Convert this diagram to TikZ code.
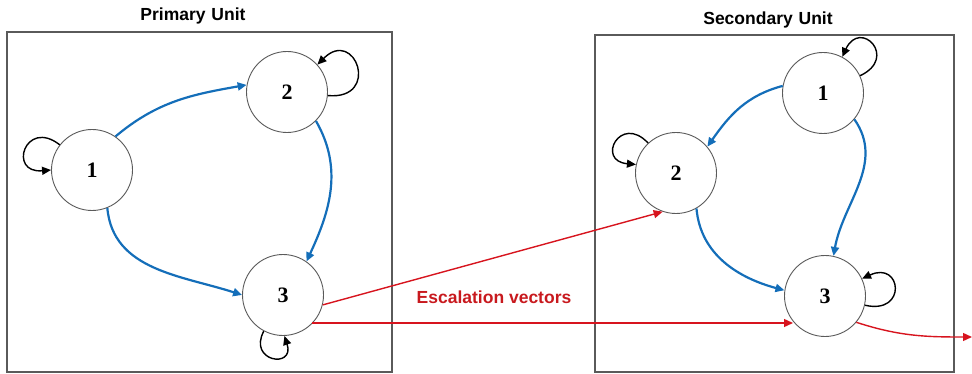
\documentclass[tikz,border=0pt]{standalone}
\usepackage{fontspec}
\setmainfont{Liberation Serif}
\setsansfont{Liberation Sans}
\usetikzlibrary{arrows.meta,calc}
\definecolor{flowblue}{RGB}{20,110,185}
\definecolor{escred}{RGB}{215,20,30}
\definecolor{labred}{RGB}{200,25,30}
\definecolor{boxgray}{RGB}{90,90,90}
\tikzset{
  state/.style={circle,draw=boxgray,line width=0.9pt,fill=white,minimum size=81pt,inner sep=0pt,
    font=\fontsize{22}{24}\selectfont\bfseries},
  unitbox/.style={draw=boxgray,line width=1.3pt},
  unittitle/.style={font=\sffamily\bfseries\fontsize{17.5}{19}\selectfont},
  flow/.style={draw=flowblue,line width=2.2pt,-{Triangle[length=9pt,width=8pt]}},
  selfloop/.style={draw=black,line width=1.4pt,-{Triangle[length=9pt,width=8pt]},looseness=4.2},
  esc/.style={draw=escred,line width=1.4pt,-{Triangle[length=9pt,width=8pt]}},
}
\begin{document}
\begin{tikzpicture}[x=1pt,y=1pt]
\useasboundingbox (0,0) rectangle (972,-374);
% boxes
\draw[unitbox] (7,-32) rectangle (392,-372);
\draw[unitbox] (595,-35) rectangle (954,-372);
\node[unittitle] (t1) at (193,-16) {Primary\,\,Unit};
\node[unittitle] (t2) at (768,-20) {Secondary\,\,Unit};
% primary states
\node[state] (P1) at (92,-170) {1};
\node[state] (P2) at (287,-92) {2};
\node[state] (P3) at (283,-295) {3};
% secondary states
\node[state] (S1) at (823,-93) {1};
\node[state] (S2) at (676,-173) {2};
\node[state] (S3) at (825,-296) {3};
% blue flows
\draw[flow] (P1.55) to[out=40,in=190] (P2.170);
\draw[flow] (P2.-45) to[out=-60,in=65] (P3.55);
\draw[flow] (P1.-68) to[out=-85,in=162] (P3.180);
\draw[flow] (S1.170) to[out=195,in=55] (S2.40);
\draw[flow] (S1.-40) to[out=-55,in=80] (S3.78);
\draw[flow] (S2.-60) to[out=-85,in=165] (S3.172);
% self loops
\draw[selfloop] (P1.142) to[out=142,in=185] (P1.180);
\draw[selfloop] (P2.-5) to[out=-5,in=45] (P2.42);
\draw[selfloop] (P3.-118) to[out=-118,in=-72] (P3.-88);
\draw[selfloop] (S1.25) to[out=25,in=65] (S1.62);
\draw[selfloop] (S2.133) to[out=133,in=175] (S2.168);
\draw[selfloop] (S3.-13) to[out=-13,in=25] (S3.25);
% escalation vectors
\coordinate (h1) at (312,-323);
\coordinate (h2) at (793,-323);
\coordinate (exit) at (972,-337);
\draw[esc] (P3.-14) -- (S2.-109);
\draw[esc] (h1) -- (h2);
\draw[esc] (S3.-40) to[out=-18,in=180] (exit);
\node[font=\sffamily\bfseries\fontsize{17.5}{19}\selectfont,text=labred] (lab) at (494,-297) {Escalation vectors};
\end{tikzpicture}
\end{document}
